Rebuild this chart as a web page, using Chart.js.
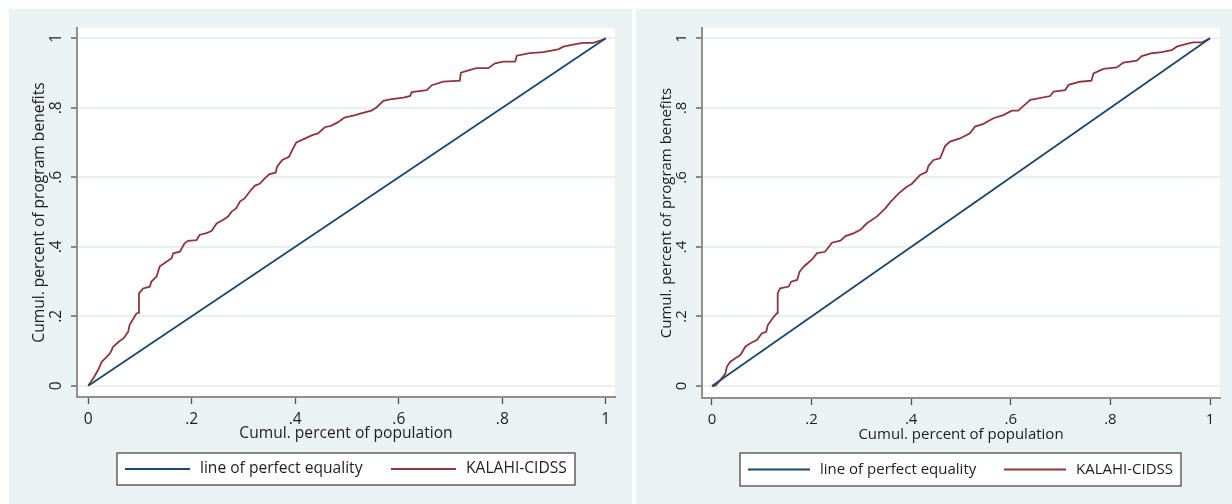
<!DOCTYPE html>
<html>
<head>
<meta charset="utf-8">
<script src="https://cdn.jsdelivr.net/npm/chart.js@4/dist/chart.umd.min.js"></script>
<style>
    body { margin: 0; background: #fff; width: 1232px; height: 504px; overflow: hidden; position: relative; }
    .panel { position: absolute; top: 9px; height: 495px; background: #eaf2f3; }
    #panelLeft { left: 9px; width: 623px; }
    #panelRight { left: 636px; width: 596px; }
    canvas { display: block; }
</style>
</head>
<body>
<div class="panel" id="panelLeft"><canvas id="chartLeft" width="623" height="495"></canvas></div>
<div class="panel" id="panelRight"><canvas id="chartRight" width="596" height="495"></canvas></div>
<script>
// tick values and labels (both axes use the same)
const tickValues = [0, 0.2, 0.4, 0.6, 0.8, 1];
const tickLabels = ['0', '.2', '.4', '.6', '.8', '1'];

const seriesNames = ['line of perfect equality', 'KALAHI-CIDSS'];

const equalityX = [0, 1];
const equalityY = [0, 1];

// left panel concentration curve
const leftCurveX = [0, 0.010, 0.019, 0.026, 0.035, 0.042, 0.048, 0.060, 0.068, 0.077, 0.080, 0.093, 0.098, 0.098,
    0.106, 0.119, 0.122, 0.132, 0.138, 0.151, 0.161, 0.164, 0.177, 0.186, 0.193, 0.209, 0.215, 0.228, 0.238,
    0.248, 0.260, 0.270, 0.277, 0.286, 0.293, 0.302, 0.312, 0.322, 0.331, 0.341, 0.350, 0.362, 0.365, 0.375,
    0.388, 0.394, 0.402, 0.415, 0.434, 0.444, 0.457, 0.469, 0.482, 0.495, 0.514, 0.527, 0.547, 0.557, 0.570,
    0.583, 0.609, 0.622, 0.625, 0.654, 0.664, 0.686, 0.718, 0.720, 0.738, 0.750, 0.773, 0.786, 0.802, 0.825,
    0.828, 0.853, 0.879, 0.908, 0.918, 0.944, 0.957, 0.976, 0.989, 1];
const leftCurveY = [0, 0.022, 0.045, 0.069, 0.082, 0.093, 0.112, 0.128, 0.136, 0.155, 0.175, 0.208, 0.210, 0.266,
    0.280, 0.285, 0.300, 0.314, 0.343, 0.357, 0.367, 0.381, 0.386, 0.410, 0.417, 0.419, 0.434, 0.439, 0.445,
    0.467, 0.477, 0.487, 0.501, 0.511, 0.530, 0.539, 0.559, 0.576, 0.581, 0.597, 0.609, 0.613, 0.631, 0.650,
    0.659, 0.678, 0.700, 0.709, 0.722, 0.726, 0.744, 0.748, 0.758, 0.772, 0.778, 0.784, 0.792, 0.801, 0.820,
    0.824, 0.829, 0.834, 0.845, 0.851, 0.865, 0.875, 0.878, 0.901, 0.909, 0.914, 0.914, 0.928, 0.933, 0.933,
    0.950, 0.957, 0.960, 0.968, 0.976, 0.984, 0.987, 0.987, 0.993, 1];

// right panel concentration curve
const rightCurveX = [0, 0.007, 0.017, 0.027, 0.030, 0.037, 0.047, 0.057, 0.067, 0.077, 0.090, 0.100, 0.109, 0.112,
    0.124, 0.130, 0.132, 0.132, 0.137, 0.154, 0.159, 0.171, 0.176, 0.184, 0.201, 0.211, 0.227, 0.241, 0.258,
    0.268, 0.284, 0.298, 0.311, 0.331, 0.348, 0.359, 0.375, 0.391, 0.401, 0.418, 0.431, 0.435, 0.445, 0.458,
    0.468, 0.478, 0.498, 0.518, 0.528, 0.545, 0.565, 0.585, 0.602, 0.615, 0.625, 0.639, 0.655, 0.679, 0.686,
    0.709, 0.716, 0.739, 0.762, 0.766, 0.786, 0.813, 0.826, 0.853, 0.863, 0.883, 0.903, 0.923, 0.933, 0.953,
    0.966, 0.983, 1];
const rightCurveY = [0, 0.001, 0.017, 0.036, 0.056, 0.070, 0.080, 0.089, 0.113, 0.123, 0.132, 0.151, 0.156, 0.175,
    0.199, 0.209, 0.209, 0.267, 0.281, 0.286, 0.300, 0.305, 0.329, 0.343, 0.364, 0.382, 0.386, 0.412, 0.418,
    0.431, 0.439, 0.449, 0.468, 0.487, 0.511, 0.530, 0.554, 0.573, 0.581, 0.607, 0.616, 0.634, 0.650, 0.655,
    0.690, 0.703, 0.712, 0.727, 0.746, 0.754, 0.770, 0.779, 0.792, 0.792, 0.805, 0.823, 0.827, 0.834, 0.847,
    0.851, 0.866, 0.875, 0.878, 0.899, 0.912, 0.916, 0.930, 0.936, 0.949, 0.957, 0.960, 0.966, 0.976, 0.984,
    0.988, 0.988, 1];

const NAVY = '#1a476f';
const MAROON = '#90353b';
const FONT = "'Open Sans', sans-serif";

const toPoints = (xs, ys) => xs.map((x, i) => ({ x: x, y: ys[i] }));

// white plot region
const plotBgPlugin = {
    id: 'plotBg',
    beforeDraw(chart) {
        const { ctx, chartArea: a } = chart;
        ctx.save();
        ctx.fillStyle = '#fff';
        ctx.fillRect(a.left, a.top, a.right - a.left, a.bottom - a.top);
        ctx.restore();
    }
};

// draws the boxed legend below the plot
const legendBoxPlugin = {
    id: 'legendBox',
    afterDraw(chart, args, opts) {
        const ctx = chart.ctx;
        const midY = opts.top + opts.height / 2;
        ctx.save();
        ctx.fillStyle = '#fff';
        ctx.fillRect(opts.left, opts.top, opts.width, opts.height);
        ctx.strokeStyle = '#4a4a4a';
        ctx.lineWidth = 1.3;
        ctx.strokeRect(opts.left, opts.top, opts.width, opts.height);
        ctx.font = opts.fontSize + 'px ' + FONT;
        ctx.textBaseline = 'middle';
        chart.data.datasets.forEach((ds, i) => {
            const item = opts.items[i];
            ctx.strokeStyle = ds.borderColor;
            ctx.lineWidth = 2;
            ctx.beginPath();
            ctx.moveTo(item.lineStart, midY);
            ctx.lineTo(item.lineEnd, midY);
            ctx.stroke();
            ctx.fillStyle = '#1e1e1e';
            ctx.fillText(ds.label, item.textX, midY);
        });
        ctx.restore();
    }
};

function makePanel(canvasId, cfg) {
    const setTicks = scale => { scale.ticks = tickValues.map(v => ({ value: v })); };
    const tickFont = { family: FONT, size: cfg.fontSize };

    return new Chart(document.getElementById(canvasId), {
        type: 'scatter',
        data: {
            datasets: [{
                label: seriesNames[0],
                data: toPoints(equalityX, equalityY),
                borderColor: NAVY,
                borderWidth: 1.8,
                showLine: true,
                pointRadius: 0
            }, {
                label: seriesNames[1],
                data: toPoints(cfg.curveX, cfg.curveY),
                borderColor: MAROON,
                borderWidth: 1.8,
                showLine: true,
                pointRadius: 0
            }]
        },
        options: {
            responsive: false,
            animation: false,
            events: [],
            layout: { padding: cfg.padding },
            plugins: {
                legend: { display: false },
                tooltip: { enabled: false },
                legendBox: cfg.legend
            },
            scales: {
                x: {
                    type: 'linear',
                    min: cfg.xMin,
                    max: cfg.xMax,
                    afterBuildTicks: setTicks,
                    afterFit: scale => { scale.height = cfg.xAxisHeight; },
                    border: { display: true, color: '#8f8f8f', width: 2 },
                    grid: { drawOnChartArea: false, tickColor: '#505050', tickLength: 7, tickWidth: 1.3 },
                    ticks: {
                        font: tickFont,
                        color: '#1e1e1e',
                        padding: 6,
                        maxRotation: 0,
                        autoSkip: false,
                        callback: (v, i) => tickLabels[i]
                    },
                    title: {
                        display: true,
                        text: 'Cumul. percent of population',
                        font: tickFont,
                        color: '#1e1e1e',
                        padding: { top: 0, bottom: cfg.xTitlePad }
                    }
                },
                y: {
                    type: 'linear',
                    min: cfg.yMin,
                    max: cfg.yMax,
                    afterBuildTicks: setTicks,
                    afterFit: scale => { scale.width = cfg.yAxisWidth; },
                    border: { display: true, color: '#8f8f8f', width: 2 },
                    grid: { color: '#e8f0f2', lineWidth: 2, tickColor: '#505050', tickLength: 6, tickWidth: 1.3 },
                    ticks: {
                        font: tickFont,
                        color: '#1e1e1e',
                        padding: cfg.yTickPad,
                        minRotation: 90,
                        maxRotation: 90,
                        crossAlign: 'center',
                        autoSkip: false,
                        callback: (v, i) => tickLabels[i]
                    },
                    title: {
                        display: true,
                        text: 'Cumul. percent of program benefits',
                        font: tickFont,
                        color: '#1e1e1e',
                        padding: { top: cfg.yTitlePad, bottom: 0 }
                    }
                }
            }
        },
        plugins: [plotBgPlugin, legendBoxPlugin]
    });
}

makePanel('chartLeft', {
    curveX: leftCurveX,
    curveY: leftCurveY,
    fontSize: 15.6,
    padding: { left: 0, right: 17, top: 19, bottom: 57 },
    xAxisHeight: 50,
    xTitlePad: 4,
    yAxisWidth: 68,
    yTickPad: 8,
    yTitlePad: 21,
    xMin: -0.0218, xMax: 1.0178,
    yMin: -0.0325, yMax: 1.0296,
    legend: {
        left: 108, top: 444, width: 458, height: 32, fontSize: 15.6,
        items: [
            { lineStart: 116, lineEnd: 181, textX: 191 },
            { lineStart: 382, lineEnd: 447, textX: 457 }
        ]
    }
});

makePanel('chartRight', {
    curveX: rightCurveX,
    curveY: rightCurveY,
    fontSize: 15,
    padding: { left: 0, right: 12, top: 19, bottom: 56 },
    xAxisHeight: 50,
    xTitlePad: 4,
    yAxisWidth: 66,
    yTickPad: 8,
    yTitlePad: 22,
    xMin: -0.020, xMax: 1.020,
    yMin: -0.0345, yMax: 1.0296,
    legend: {
        left: 104, top: 444, width: 441, height: 33, fontSize: 15,
        items: [
            { lineStart: 112, lineEnd: 174, textX: 184 },
            { lineStart: 368, lineEnd: 430, textX: 440 }
        ]
    }
});
</script>
</body>
</html>
